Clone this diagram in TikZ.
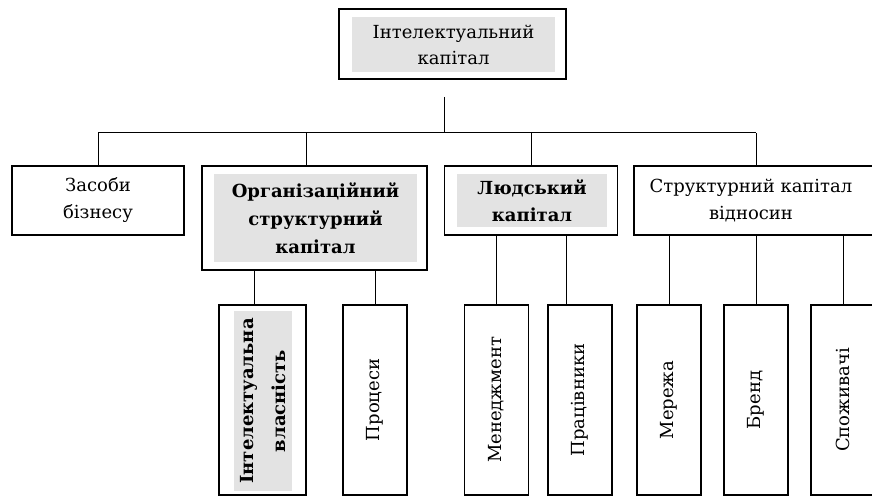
\documentclass[tikz,border=0pt]{standalone}
\usepackage{fontspec}
\setmainfont{DejaVu Serif}
\begin{document}
\begin{tikzpicture}[x=1pt,y=-1pt,
    box/.style={draw,line width=1.3pt,inner sep=0pt},
    greybox/.style={fill=black!11,inner sep=0pt,align=center,font=\fontsize{18}{26}\selectfont},
    txt/.style={align=center,font=\fontsize{18}{27}\selectfont},
    vbox/.style={box,minimum width=64,minimum height=190},
    link/.style={line width=1pt}]
    \useasboundingbox (0,0) rectangle (872,497);
    \node[box,minimum width=227,minimum height=70] (ic) at (452.5,44) {};
    \node[greybox,minimum width=203,minimum height=55] (icin) at (453.5,44.5) {Інтелектуальний\\капітал};
    \coordinate (icend) at (444,97);
    \coordinate (bus) at (444,133);
    \node[box,txt,minimum width=172,minimum height=69] (zas) at (98,200.5) {Засоби\\бізнесу};
    \node[box,minimum width=225,minimum height=104] (org) at (314.5,218) {};
    \node[greybox,font=\fontsize{18}{28}\selectfont\bfseries,minimum width=203,minimum height=88] (orgin) at (315.5,218) {Організаційний\\структурний\\капітал};
    \node[box,minimum width=173,minimum height=69] (lud) at (531,200.5) {};
    \node[greybox,font=\fontsize{18}{27}\selectfont\bfseries,minimum width=150,minimum height=53] (ludin) at (532,200.5) {Людський\\капітал};
    \node[box,minimum width=244,minimum height=69] (str) at (756,200.5) {};
    \node[txt] (strtxt) at (751,200.5) {Структурний капітал\\відносин};
    \node[box,minimum width=87,minimum height=190] (ip) at (262.5,400) {};
    \node[greybox,rotate=90,font=\fontsize{18}{32}\selectfont\bfseries,minimum width=180,minimum height=58] (ipin) at (263,401) {Інтелектуальна\\власність};
    \foreach \n/\x/\t in {proc/375/Процеси,men/496.5/Менеджмент,prac/580/Працівники,mer/669/Мережа,brend/756/Бренд,spoz/843/Споживачі}{
        \node[vbox] (\n) at (\x,400) {};
        \node[txt,rotate=90] at (\n) {\t};
    }
    \draw[link] (icend) -- (bus);
    \draw[link] (zas.north |- bus) -- (str.north |- bus);
    \draw[link] (zas.north) -- (zas.north |- bus);
    \draw[link] ([xshift=-8.5]org.north) -- ([xshift=-8.5]org.north |- bus);
    \draw[link] (lud.north) -- (lud.north |- bus);
    \draw[link] (str.north) -- (str.north |- bus);
    \draw[link] ([xshift=-8.5]ip.north) -- ([xshift=-8.5]ip.north |- org.south);
    \draw[link] (proc.north) -- (proc.north |- org.south);
    \draw[link] (men.north) -- (men.north |- lud.south);
    \draw[link] ([xshift=-14]prac.north) -- ([xshift=-14]prac.north |- lud.south);
    \draw[link] (mer.north) -- (mer.north |- str.south);
    \draw[link] (brend.north) -- (brend.north |- str.south);
    \draw[link] (spoz.north) -- (spoz.north |- str.south);
\end{tikzpicture}
\end{document}
